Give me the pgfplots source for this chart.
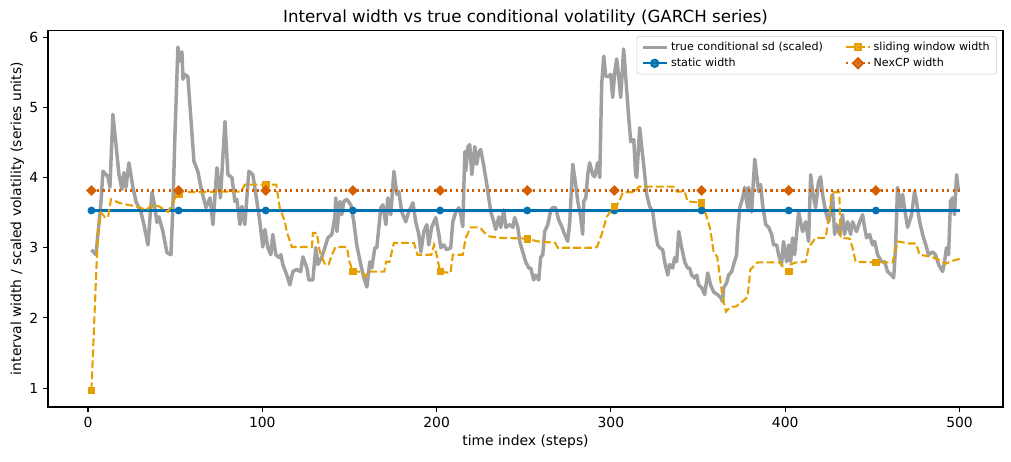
\documentclass[border=0pt]{standalone}
\usepackage{fontspec}
\setmainfont{DejaVu Sans}
\usepackage{pgfplots}
\pgfplotsset{compat=1.18}
\definecolor{cgray}{RGB}{160,160,160}
\definecolor{cblue}{RGB}{0,114,178}
\definecolor{corange}{RGB}{230,159,0}
\definecolor{cverm}{RGB}{213,94,0}
\definecolor{cframe}{RGB}{204,204,204}
\begin{document}
\begin{tikzpicture}
\path[use as bounding box] (0,0) rectangle (728pt,332pt);
\begin{axis}[
  at={(34.6pt,38.9pt)}, anchor=south west,
  scale only axis, width=687.6pt, height=271.4pt,
  xmin=-22.9, xmax=524.9, ymin=0.73, ymax=6.10,
  xtick={0,100,200,300,400,500}, ytick={1,2,3,4,5,6},
  tick align=outside, tick pos=left, major tick length=3.5pt,
  tick style={black, line width=0.8pt},
  axis line style={line width=0.8pt},
  /pgf/number format/assume math mode=true,
  ticklabel style={font=\fontsize{10}{12}\selectfont},
  title={Interval width vs true conditional volatility (GARCH series)},
  title style={font=\fontsize{12}{14}\selectfont, at={(axis description cs:0.5,0.998)}, anchor=base},
  xlabel={time index (steps)},
  xlabel style={font=\fontsize{10}{12}\selectfont, at={(axis description cs:0.5,-0.1032)}, anchor=base},
  ylabel={interval width / scaled volatility (series units)},
  ylabel style={font=\fontsize{10}{12}\selectfont, at={(axis description cs:-0.0282,0.5)}, anchor=base},
  legend columns=2, transpose legend, legend cell align=left,
  legend style={at={(0.9937,0.984)}, anchor=north east,
    font=\fontsize{8}{9.6}\selectfont, draw=cframe,
    rounded corners=2pt, fill=white, fill opacity=0.8, text opacity=1,
    /tikz/every even column/.append style={column sep=14pt}},
]
\addlegendimage{cgray, line width=2.5pt}
\addlegendentry{true conditional sd (scaled)}
\addlegendimage{cblue, line width=1.5pt, mark=*, mark size=2.6pt}
\addlegendentry{static width}
\addlegendimage{corange, line width=1.5pt, dash pattern=on 5.55pt off 2.4pt, mark=square*, mark size=2.3pt, mark options={solid}}
\addlegendentry{sliding window width}
\addlegendimage{cverm, line width=1.5pt, dash pattern=on 1.5pt off 2.475pt, mark=square*, mark size=2.5pt, mark options={solid, rotate=45}}
\addlegendentry{NexCP width}

\addplot[forget plot, cgray, line width=2.5pt, line join=round, no marks] coordinates {
(2,2.97)(4.6,2.9)(7.5,3.66)(8.6,4.09)(11.5,4.01)(12.6,3.86)(14.3,4.9)(17.8,4.04)(19.5,3.83)(20.6,4.07)(21.8,3.86)(23.5,4.21)(25.8,3.86)(27.5,3.66)(30.4,3.51)(32.1,3.33)(34.4,3.04)(36.7,3.79)(37.8,3.66)(39.6,3.36)(40.7,3.44)(43,3.23)(45.3,2.93)(47.6,2.9)(48.7,3.57)(49.9,4.61)(51.6,5.86)(52.8,5.66)(53.9,5.79)(54.5,5.4)(55.6,5.47)(57.3,5.44)(59,4.86)(60.8,4.23)(63,4.09)(64.8,3.86)(67.7,3.57)(70,3.71)(71.7,3.33)(74,4.14)(76,3.71)(78.6,4.8)(80.3,4.04)(82.6,4.0)(84.3,3.66)(85.4,3.69)(87.2,3.33)(88.3,3.59)(90,3.33)(92.3,4.09)(94.6,4.04)(96.9,3.66)(98.6,3.37)(100.3,3.01)(101.5,3.26)(103.2,3.0)(104.9,2.9)(106,3.19)(107.8,2.9)(109.5,2.86)(110.7,2.9)(111.8,2.76)(114.1,2.61)(115.8,2.47)(117.5,2.66)(119.8,2.69)(122,2.66)(123.3,2.87)(125.6,2.71)(126.7,2.54)(129,2.54)(130.7,3.0)(131.9,2.76)(134.2,2.87)(135.9,3.0)(137.6,3.14)(139.9,3.19)(141.6,3.43)(142.2,3.71)(142.8,3.23)(144.5,3.66)(145.6,3.47)(146.8,3.66)(148.5,3.69)(150.8,3.61)(152.5,3.37)(154.2,3.04)(156.5,2.76)(158.3,2.57)(160,2.44)(161.7,2.8)(162.8,2.71)(164.6,3.0)(165.7,3.0)(168,3.57)(169.2,3.61)(170.9,3.33)(172,3.71)(173.7,3.47)(175.5,4.09)(177.2,3.76)(178.3,3.8)(180,3.51)(182.3,3.37)(184,3.51)(186.4,3.64)(188,3.37)(189.8,3.19)(191,2.94)(192.7,3.23)(194.4,3.33)(195.5,3.04)(197.2,3.29)(199.5,3.43)(201.3,3.19)(202.4,3.0)(204.1,3.04)(205.8,2.97)(208.1,3.0)(209.3,3.37)(211,3.51)(212.7,3.57)(213.9,3.47)(215,3.3)(216.2,4.37)(216.7,4.09)(217.9,4.43)(219,4.47)(220.2,4.04)(221.9,4.44)(223,4.19)(224.2,4.36)(225.3,4.4)(227.1,4.16)(228.8,3.9)(231.1,3.51)(232.8,3.37)(233.9,3.26)(235.7,3.44)(236.8,3.29)(238.5,3.54)(239.7,3.29)(242,3.33)(243.7,3.29)(244.8,3.43)(246.6,3.29)(247.7,3.09)(249.4,2.94)(251.1,2.8)(252.9,2.71)(254,2.71)(255.7,2.54)(256.9,2.61)(258.6,2.54)(259.7,2.86)(260.9,2.9)(262,3.23)(263.8,3.33)(265.5,3.54)(266.6,3.57)(268.3,3.57)(270,3.4)(271.8,3.3)(273.5,3.19)(275.2,3.09)(276.4,3.37)(278.1,4.19)(279.2,4.0)(281,3.66)(282.7,3.43)(283.8,3.19)(284.4,3.66)(285.6,3.71)(286.7,4.04)(287.8,4.21)(289.6,4.04)(290.7,4.01)(292.4,4.21)(293.6,4.0)(294.7,5.33)(295.9,5.73)(297,5.44)(298.7,5.44)(299.9,5.47)(301,5.14)(302.2,5.5)(303.3,5.69)(304.5,5.43)(305.6,5.14)(307.3,5.83)(308.5,5.43)(310.2,4.86)(311.4,4.51)(313.1,4.54)(314.2,4.04)(314.8,4.0)(316.5,4.71)(317.7,4.43)(319.4,4.04)(320.5,3.76)(322.2,3.59)(324,3.51)(325.1,3.29)(326.8,3.04)(328,3.0)(329.7,2.97)(330.8,2.8)(332.6,2.61)(333.7,2.76)(335.4,2.71)(336.6,2.86)(337.7,2.8)(338.9,3.23)(340.6,3.0)(342.3,2.8)(344,2.71)(345.2,2.71)(346.3,2.61)(348,2.57)(349.2,2.61)(350.3,2.47)(352.1,2.43)(353.8,2.33)(355.5,2.64)(357.2,2.47)(358.9,2.37)(361.2,2.33)(363,2.29)(364.1,2.23)(364.7,2.43)(366.4,2.5)(367.5,2.61)(369.3,2.66)(370.4,2.76)(372.1,2.9)(372.7,3.19)(373.9,3.57)(375.6,3.71)(376.7,3.86)(378.4,3.57)(379,3.86)(380.7,3.51)(382.5,4.26)(383.6,4.04)(384.7,3.8)(385.9,3.9)(387,3.61)(388.8,3.33)(390.5,3.29)(392.2,3.19)(393.3,3.04)(395.1,3.04)(396.2,2.9)(397.9,2.76)(399,3.09)(400.8,2.8)(402,3.04)(403.1,2.8)(404.2,3.14)(405.4,2.9)(407.7,3.51)(408.8,3.37)(410,3.23)(411.7,3.37)(413.4,3.09)(414.6,4.04)(415.7,3.8)(417.4,3.57)(419.1,3.94)(420.3,4.01)(421.4,3.76)(423.2,3.51)(424.9,3.37)(426,3.51)(427.2,3.76)(428.3,3.19)(429.5,3.33)(431.2,3.19)(432.9,3.47)(434,3.19)(435.8,3.37)(437.5,3.19)(438.6,3.37)(440.9,3.23)(442.7,3.37)(444.4,3.47)(445.5,3.29)(446.7,3.14)(448.4,3.19)(450.1,3.04)(451.3,3.09)(453,2.9)(455.3,2.8)(457,2.8)(458.7,2.66)(461,2.61)(462.2,2.57)(463.3,3.0)(464.4,3.86)(466.2,3.57)(467.3,3.76)(469,3.47)(470.2,3.29)(472.5,3.47)(474.2,3.8)(475.3,3.66)(477.1,3.37)(478.8,3.19)(481.1,3.0)(482.2,2.9)(484.5,2.94)(486.2,2.9)(488,2.76)(490.3,2.66)(491.4,2.8)(492.5,3.0)(493.7,2.9)(494.8,3.66)(496,3.71)(497.1,3.47)(498.3,4.04)(499.4,3.8)
};

\addplot[forget plot, cblue, line width=1.5pt, no marks] coordinates {(2,3.53)(500,3.53)};
\addplot[forget plot, only marks, cblue, mark=*, mark size=2.6pt] coordinates {
(2,3.53)(52,3.53)(102,3.53)(152,3.53)(202,3.53)(252,3.53)(302,3.53)(352,3.53)(402,3.53)(452,3.53)};

\addplot[forget plot, corange, line width=1.5pt, dash pattern=on 5.55pt off 2.4pt, no marks] coordinates {
(2,0.97)(5.7,3.23)(7.5,3.5)(9.6,3.44)(11.5,3.43)(13.2,3.69)(17.8,3.64)(23,3.61)(27.5,3.59)(33.3,3.54)(37.3,3.61)(40.7,3.59)(45.9,3.51)(47.6,3.59)(50.5,3.73)(52,3.76)(54.5,3.8)(62,3.79)(76,3.8)(88,3.8)(90,3.9)(102,3.9)(108,3.9)(110,3.57)(113,3.37)(114,3.23)(117,3.01)(128.5,3.01)(129,3.21)(131.3,3.21)(133,2.94)(136,2.76)(138,2.76)(140,2.9)(142,3.01)(148.5,3.01)(150,2.8)(152,2.66)(157,2.66)(159,2.59)(161,2.66)(170,2.66)(171,2.8)(173,2.8)(175.5,3.07)(187,3.07)(189,2.9)(197,2.9)(198.5,3.04)(200,2.9)(202,2.66)(208,2.64)(209.3,2.9)(215,2.9)(216.7,3.14)(219.6,3.29)(224.8,3.29)(227.6,3.21)(230.5,3.16)(236.8,3.14)(252,3.13)(258,3.09)(268,3.07)(269.5,3.0)(291,3.0)(292,3.01)(294.7,3.19)(297.6,3.44)(302,3.59)(304.5,3.64)(306.8,3.79)(313.6,3.79)(316,3.87)(336.6,3.87)(337.7,3.8)(342.3,3.8)(344,3.66)(352,3.64)(355,3.44)(357,3.26)(359,2.93)(361,2.87)(364,2.3)(366,2.09)(368.7,2.16)(371.5,2.16)(374.4,2.21)(378.4,2.3)(380,2.69)(384,2.79)(397,2.79)(399,2.71)(402,2.66)(403,2.76)(406,2.79)(411.7,2.8)(413.4,3.0)(417.4,3.14)(423.2,3.14)(425.5,3.51)(426.6,3.79)(431,3.79)(431.8,3.14)(437,3.13)(438.6,3.0)(440.4,2.8)(452,2.79)(461.6,2.79)(464.4,3.09)(471.3,3.06)(475,3.06)(477.1,2.9)(484,2.87)(486.8,2.84)(490.3,2.8)(492,2.77)(495.4,2.81)(500,2.84)
};
\addplot[forget plot, only marks, corange, mark=square*, mark size=2.3pt] coordinates {
(2,0.97)(52,3.76)(102,3.9)(152,2.66)(202,2.66)(252,3.13)(302,3.59)(352,3.64)(402,2.66)(452,2.79)};

\addplot[forget plot, cverm, line width=1.5pt, dash pattern=on 1.5pt off 2.475pt, no marks] coordinates {(2,3.815)(500,3.815)};
\addplot[forget plot, only marks, cverm, mark=square*, mark size=2.5pt, mark options={rotate=45}] coordinates {
(2,3.815)(52,3.815)(102,3.815)(152,3.815)(202,3.815)(252,3.815)(302,3.815)(352,3.815)(402,3.815)(452,3.815)};
\end{axis}
\end{tikzpicture}
\end{document}
